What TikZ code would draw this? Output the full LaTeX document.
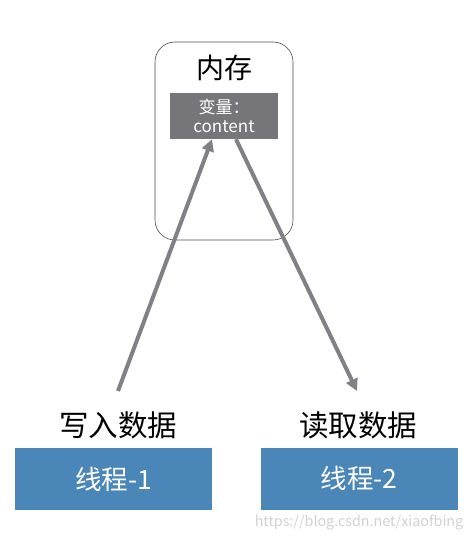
\documentclass[tikz,border=0pt]{standalone}
\usepackage{fontspec}
\setmainfont{Noto Sans CJK SC}
\usepackage{tikz}
\usetikzlibrary{arrows.meta, positioning}
\definecolor{memgray}{HTML}{76767A}
\definecolor{arrowgray}{HTML}{808087}
\definecolor{threadblue}{HTML}{4A86B8}

\begin{document}
\begin{tikzpicture}[x=1pt, y=-1pt,
		membox/.style={draw=black!70, line width=.6pt, rounded corners=20pt, minimum width=138pt, minimum height=198pt, inner sep=0pt},
		varbox/.style={fill=memgray, text=white, minimum width=108pt, minimum height=46pt, inner sep=0pt, align=center, font=\fontsize{17}{19}\selectfont},
		threadbox/.style={fill=threadblue, text=white, minimum width=197pt, minimum height=62pt, inner sep=0pt, font=\fontsize{26.5}{30}\selectfont},
		actlabel/.style={font=\fontsize{29.5}{34}\selectfont, inner sep=0pt},
		flow/.style={arrowgray, line width=4pt, -{Triangle[length=12pt, width=12pt]}}]
	
	% Canvas
	\useasboundingbox (0,0) rectangle (472,538);
	
	% Memory
	\node[membox] (mem) at (224,141) {};
	\node[font=\fontsize{28}{32}\selectfont, inner sep=0pt] (memlabel) at (224,68) {内存};
	\node[varbox] (var) at (224,116) {变量：\\content};
	
	% Threads
	\node[threadbox] (t1) at (113.5,479) {线程-1};
	\node[threadbox] (t2) at (359,478.5) {线程-2};
	\node[actlabel] (write) at (118,425) {写入数据};
	\node[actlabel] (read) at (358,425) {读取数据};
	
	% Arrows
	\coordinate (wstart) at (118,391);
	\coordinate (rend) at (357,391);
	\draw[flow] (wstart) -- (var.south -| 212,0);
	\draw[flow] (var.south -| 236,0) -- (rend);
	
	% Watermark
	\node[text=black!18, font=\fontsize{14.3}{16}\selectfont, inner sep=0pt] (mark) at (359,522) {https://blog.csdn.net/xiaofbing};
\end{tikzpicture}
\end{document}
